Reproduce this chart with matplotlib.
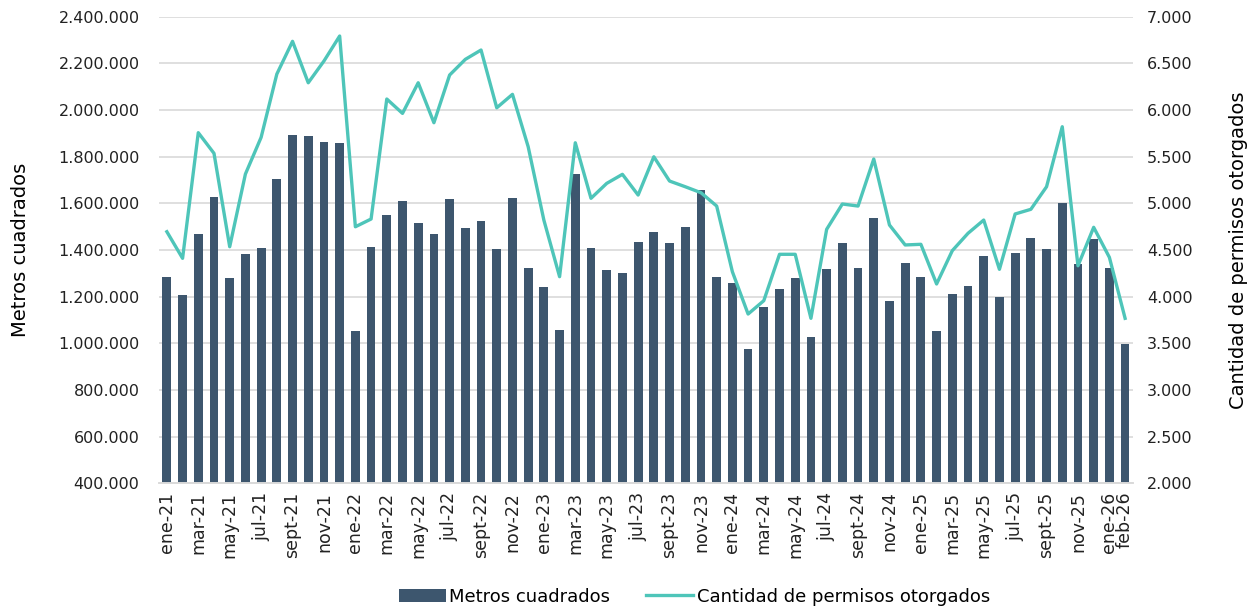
import matplotlib.pyplot as plt
import matplotlib.ticker as mticker
import numpy as np

# meses ene-21 .. feb-26
meses = ["ene", "feb", "mar", "abr", "may", "jun", "jul", "ago", "sept", "oct", "nov", "dic"]
periodos = [f"{m}-{a}" for a in range(21, 26) for m in meses] + ["ene-26", "feb-26"]

metros = [
    1284000, 1206000, 1467000, 1626000, 1281000, 1383000, 1408000, 1703000, 1891000, 1887000, 1863000, 1860000,
    1051000, 1413000, 1549000, 1610000, 1514000, 1468000, 1617000, 1493000, 1524000, 1403000, 1623000, 1321000,
    1240000, 1056000, 1726000, 1407000, 1314000, 1301000, 1433000, 1477000, 1430000, 1497000, 1657000, 1283000,
    1257000, 976000, 1154000, 1231000, 1279000, 1028000, 1318000, 1429000, 1323000, 1538000, 1180000, 1343000,
    1284000, 1054000, 1211000, 1246000, 1373000, 1197000, 1386000, 1450000, 1403000, 1601000, 1339000, 1446000,
    1324000, 998000,
]

permisos = [
    4696, 4411, 5757, 5536, 4535, 5314, 5707, 6385, 6736, 6292, 6525, 6793,
    4749, 4832, 6118, 5964, 6292, 5864, 6375, 6543, 6643, 6024, 6168, 5607,
    4820, 4214, 5649, 5054, 5214, 5311, 5089, 5499, 5239, 5178, 5114, 4971,
    4267, 3814, 3957, 4454, 4454, 3768, 4721, 4993, 4971, 5475, 4768, 4554,
    4561, 4136, 4493, 4679, 4821, 4293, 4886, 4936, 5178, 5821, 4331, 4743,
    4421, 3768,
]

color_barra = "#3D566E"
color_linea = "#4EC5B9"

fig = plt.figure(figsize=(12.58, 6.12), dpi=100)
ax = fig.add_axes([0.1264, 0.2103, 0.7742, 0.7624])
ax2 = ax.twinx()

x = np.arange(len(periodos))
b = ax.bar(x, metros, width=0.56, color=color_barra, zorder=2, label="Metros cuadrados")
l, = ax2.plot(x, permisos, color=color_linea, linewidth=2.4, zorder=3,
              label="Cantidad de permisos otorgados")

ax.set_ylim(400000, 2400000)
ax.set_yticks(np.arange(400000, 2400001, 200000))
ax.yaxis.set_major_formatter(mticker.FuncFormatter(lambda v, p: f"{int(v):,}".replace(",", ".")))
ax2.set_ylim(2000, 7000)
ax2.set_yticks(np.arange(2000, 7001, 500))
ax2.yaxis.set_major_formatter(mticker.FuncFormatter(lambda v, p: f"{int(v):,}".replace(",", ".")))

ax.set_xlim(-0.5, len(periodos) - 0.5)
pos = list(range(0, 61, 2)) + [61]
ax.set_xticks(pos)
ax.set_xticklabels([periodos[i] for i in pos], rotation=90, fontsize=12.5, color="#222222")

ax.grid(axis="y", color="#D9D9D9", linewidth=1.2, zorder=0)
ax.set_axisbelow(True)
for a in (ax, ax2):
    for s in ["top", "left", "right"]:
        a.spines[s].set_visible(False)
    a.spines["bottom"].set_color("#D9D9D9")
    a.spines["bottom"].set_linewidth(1.2)
    a.tick_params(axis="y", length=0, labelsize=11.5, labelcolor="#222222")
ax.tick_params(axis="x", length=0, pad=6)
ax.tick_params(axis="y", pad=14)
ax2.tick_params(axis="y", pad=10)

ax.set_ylabel("Metros cuadrados", fontsize=14, labelpad=20)
ax2.set_ylabel("Cantidad de permisos otorgados", fontsize=14, labelpad=26)

fig.legend([b, l], ["Metros cuadrados", "Cantidad de permisos otorgados"],
           loc="center", bbox_to_anchor=(0.552, 0.025), ncol=2, frameon=False,
           fontsize=13, handlelength=2.6, columnspacing=2.0, handletextpad=0.2)

fig.savefig("out.png", dpi=100)
